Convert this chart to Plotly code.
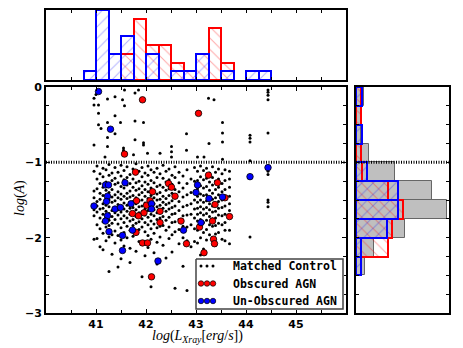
import plotly.graph_objects as go

# ---------------- data ----------------
# Matched control sample: dots arranged in vertical columns (x = log Lx, y = log A)
control_cols = [40.96, 41.02, 41.08, 41.14, 41.20, 41.26, 41.32, 41.38, 41.44, 41.50,
                41.56, 41.62, 41.68, 41.74, 41.80, 41.86, 41.92, 41.98, 42.04, 42.10,
                42.16, 42.22, 42.28, 42.34, 42.40, 42.46, 42.52, 42.58, 42.66, 42.74,
                42.82, 42.90, 42.97, 43.03, 43.09, 43.15, 43.21, 43.27, 43.33, 43.39,
                43.45, 43.52, 43.58, 43.67, 44.08, 44.44]
control_ys = [
    [-1.12, -1.38, -1.47, -1.63, -1.71, -2.02],
    [-1.05, -1.22, -1.35, -1.52, -1.58, -1.66, -1.83, -2.01],
    [-1.15, -1.28, -1.41, -1.49, -1.62, -1.74, -1.88, -2.12],
    [-1.08, -1.19, -1.33, -1.44, -1.55, -1.61, -1.69, -1.79, -1.94, -2.16],
    [-1.10, -1.26, -1.37, -1.48, -1.57, -1.65, -1.73, -1.86, -2.04],
    [-1.03, -1.17, -1.31, -1.40, -1.50, -1.59, -1.68, -1.77, -1.84, -1.99, -2.45],
    [-1.14, -1.24, -1.36, -1.46, -1.53, -1.64, -1.72, -1.81, -1.96, -2.22],
    [-1.07, -1.21, -1.29, -1.43, -1.51, -1.60, -1.67, -1.76, -1.91, -2.07],
    [-1.13, -1.27, -1.39, -1.47, -1.56, -1.63, -1.70, -1.82, -1.97, -2.39],
    [-1.04, -1.18, -1.32, -1.42, -1.49, -1.58, -1.66, -1.75, -1.87, -2.03, -2.28],
    [-1.11, -1.23, -1.34, -1.45, -1.54, -1.62, -1.71, -1.80, -1.93, -2.11],
    [-1.06, -1.20, -1.30, -1.41, -1.48, -1.57, -1.65, -1.74, -1.85, -2.00],
    [-1.16, -1.28, -1.38, -1.46, -1.53, -1.61, -1.69, -1.78, -1.90, -2.14, -2.33],
    [-1.09, -1.22, -1.33, -1.44, -1.52, -1.60, -1.68, -1.76, -1.84, -1.98],
    [-1.02, -1.15, -1.27, -1.37, -1.47, -1.55, -1.63, -1.72, -1.81, -1.95, -2.18],
    [-1.12, -1.25, -1.35, -1.43, -1.51, -1.59, -1.67, -1.79, -1.89, -2.05],
    [-1.07, -1.19, -1.31, -1.40, -1.50, -1.58, -1.66, -1.75, -1.86, -2.09, -2.52],
    [-1.14, -1.26, -1.36, -1.45, -1.54, -1.62, -1.70, -1.80, -1.92, -2.24],
    [-1.05, -1.17, -1.29, -1.39, -1.48, -1.56, -1.64, -1.73, -1.83, -1.97, -2.13],
    [-1.10, -1.24, -1.34, -1.44, -1.52, -1.60, -1.69, -1.78, -1.88, -2.02, -2.65],
    [-1.13, -1.27, -1.38, -1.47, -1.55, -1.63, -1.71, -1.82, -1.94, -2.20],
    [-1.08, -1.20, -1.32, -1.42, -1.50, -1.59, -1.67, -1.76, -1.87, -2.06, -2.35],
    [-1.15, -1.30, -1.40, -1.49, -1.57, -1.66, -1.74, -1.85, -1.99],
    [-1.04, -1.21, -1.33, -1.45, -1.53, -1.61, -1.72, -1.84, -2.10],
    [-1.12, -1.26, -1.37, -1.48, -1.56, -1.65, -1.77, -1.90, -2.27],
    [-1.09, -1.23, -1.35, -1.44, -1.54, -1.62, -1.73, -1.86, -2.01],
    [-1.17, -1.29, -1.41, -1.51, -1.60, -1.69, -1.80, -1.96, -2.19],
    [-1.06, -1.20, -1.36, -1.47, -1.58, -1.68, -1.79, -1.92, -2.67],
    [-1.13, -1.27, -1.39, -1.52, -1.64, -1.76, -1.89, -2.08],
    [-1.18, -1.34, -1.46, -1.59, -1.71, -1.85, -2.00, -2.38],
    [-1.10, -1.28, -1.43, -1.57, -1.70, -1.86, -2.04, -2.70],
    [-1.22, -1.40, -1.55, -1.69, -1.83, -2.12],
    [-1.07, -1.25, -1.38, -1.50, -1.62, -1.74, -1.88, -2.05],
    [-1.12, -1.24, -1.35, -1.45, -1.53, -1.61, -1.69, -1.78, -1.90, -2.07],
    [-1.05, -1.19, -1.31, -1.42, -1.50, -1.59, -1.67, -1.76, -1.87, -2.00, -2.23],
    [-1.11, -1.23, -1.34, -1.44, -1.53, -1.62, -1.70, -1.80, -1.93, -2.15],
    [-1.08, -1.21, -1.32, -1.43, -1.51, -1.60, -1.68, -1.77, -1.89, -2.03],
    [-1.14, -1.26, -1.37, -1.46, -1.55, -1.63, -1.72, -1.83, -1.96, -2.30],
    [-1.06, -1.20, -1.30, -1.41, -1.49, -1.58, -1.66, -1.75, -1.85, -2.00],
    [-1.13, -1.25, -1.36, -1.47, -1.56, -1.65, -1.74, -1.84, -1.95, -2.10],
    [-1.09, -1.22, -1.33, -1.43, -1.52, -1.61, -1.70, -1.81, -1.93],
    [-1.15, -1.28, -1.39, -1.50, -1.60, -1.71, -1.83, -2.02],
    [-1.10, -1.24, -1.36, -1.48, -1.58, -1.69, -1.80, -1.90, -2.04],
    [-1.12, -1.22, -1.33, -1.45, -1.55, -1.64, -1.72, -1.90, -2.08],
    [-0.64, -0.68, -0.73, -0.98, -1.99],
    [-0.04, -0.07, -0.11, -0.17, -0.61, -1.12, -1.16, -1.50, -1.53, -1.59],
]
# sparse control dots above log(A) = -1
control_upper_x = [40.96, 40.96, 41.05, 41.05, 41.05, 40.96, 41.23, 41.38, 41.53, 41.57,
                   41.57, 41.38, 41.23, 41.23, 41.23, 41.49, 41.78, 41.78, 41.85, 41.95,
                   41.78, 41.55, 41.55, 41.38, 41.95, 41.95, 42.03, 42.28, 42.51, 42.51,
                   42.51, 42.81, 42.81, 43.25, 43.36, 43.26, 43.03, 41.18, 41.75, 43.53,
                   43.53, 43.53, 43.53, 43.16, 41.00, 41.10]
control_upper_y = [-0.15, -0.24, -0.24, -0.35, -0.50, -0.77, -0.16, -0.13, -0.17, -0.25,
                   -0.04, -0.38, -0.47, -0.67, -0.79, -0.47, -0.45, -0.08, -0.04, -0.47,
                   -0.70, -0.81, -0.84, -0.62, -0.74, -0.77, -0.88, -0.88, -0.79, -0.86,
                   -0.93, -0.62, -0.84, -0.15, -0.17, -0.75, -0.93, -0.93, -0.90, -0.47,
                   -0.61, -0.73, -0.96, -0.93, -0.10, -0.55]

# Obscured AGN (red)
obscured_x = [41.93, 43.05, 41.57, 41.79, 42.45, 42.51, 42.13, 43.43, 43.58, 43.38,
              43.67, 43.33, 43.35, 43.37, 43.16, 41.81, 41.80, 41.73, 41.85, 41.96,
              42.01, 42.08, 42.28, 42.28, 41.93, 42.03, 42.11, 42.58, 42.70, 42.81,
              43.07, 43.25]
obscured_y = [-0.17, -0.35, -0.89, -1.13, -1.28, -1.33, -1.39, -1.27, -1.47, -1.56,
              -1.72, -1.78, -2.02, -2.08, -2.20, -1.51, -1.93, -1.68, -1.71, -1.67,
              -1.57, -1.51, -1.65, -1.80, -2.07, -2.07, -2.52, -1.45, -1.78, -2.08,
              -1.86, -1.17]

# Un-obscured AGN (blue)
unobscured_x = [41.05, 41.29, 41.19, 41.25, 41.58, 43.03, 43.00, 44.08, 44.44, 43.26,
                43.53, 43.10, 40.96, 41.23, 41.21, 41.23, 41.19, 41.26, 41.38, 41.49,
                41.53, 41.53, 41.70, 41.73, 42.11, 42.11, 42.24, 42.75]
unobscured_y = [-0.06, -0.56, -1.30, -1.30, -1.27, -1.30, -1.40, -1.19, -1.07, -1.48,
                -1.46, -1.80, -1.58, -1.45, -1.52, -1.71, -1.78, -1.92, -1.62, -1.60,
                -1.97, -2.17, -1.55, -1.90, -1.55, -1.62, -2.31, -1.90]

# Top histogram: counts per 0.25-dex bin of log(Lx) (bin left edges)
lx_bin_left = [40.75, 41.0, 41.25, 41.5, 41.75, 42.0, 42.25, 42.5, 42.75, 43.0,
               43.25, 43.5, 43.75, 44.0, 44.25]
lx_obscured_counts = [0, 0, 0, 3, 7, 4, 4, 2, 1, 3, 6, 2, 0, 0, 0]
lx_unobscured_counts = [1, 8, 3, 5, 0, 3, 0, 1, 1, 3, 0, 1, 0, 1, 1]

# Right histogram: normalised frequency per 0.25 bin of log(A) (bin lower edges)
la_bin_low = [-0.25, -0.5, -0.75, -1.0, -1.25, -1.5, -1.75, -2.0, -2.25, -2.5]
la_control_freq = [0.19, 0.12, 0.12, 0.31, 0.93, 1.81, 2.17, 1.17, 0.43, 0.21]
la_obscured_freq = [0.12, 0.12, 0, 0.12, 0.14, 0.76, 1.12, 0.86, 0.76, 0]
la_unobscured_freq = [0.14, 0, 0.14, 0, 0.26, 1.0, 1.0, 0.74, 0.12, 0.12]

x_tick_vals = [41, 42, 43, 44, 45]
y_tick_vals = [0, -1, -2, -3]
legend_labels = ["Matched Control", "Obscured AGN", "Un-Obscured AGN"]
threshold_logA = -1

# ---------------- layout helpers ----------------
W, H = 463, 348


def dx(a, b):
    return [a / W, b / W]


def dy(top, bottom):
    return [1 - bottom / H, 1 - top / H]


def nz(vals):
    return [v if v else None for v in vals]


RED, BLUE = "#ff0000", "#0000ff"
tickfont = dict(family="DejaVu Sans", size=11, color="black", weight="bold")

cx = [x for x, ys in zip(control_cols, control_ys) for _ in ys] + control_upper_x
cy = [y for ys in control_ys for y in ys] + control_upper_y

fig = go.Figure()

# main scatter
fig.add_trace(go.Scatter(x=cx, y=cy, mode="markers", xaxis="x", yaxis="y",
                         marker=dict(color="black", size=3), showlegend=False))
fig.add_trace(go.Scatter(x=obscured_x, y=obscured_y, mode="markers", xaxis="x", yaxis="y",
                         marker=dict(color=RED, size=6.5, line=dict(color="black", width=0.8)),
                         showlegend=False))
fig.add_trace(go.Scatter(x=unobscured_x, y=unobscured_y, mode="markers", xaxis="x", yaxis="y",
                         marker=dict(color=BLUE, size=6.5, line=dict(color="black", width=0.8)),
                         showlegend=False))

# top histogram
fig.add_trace(go.Bar(x=lx_bin_left, y=nz(lx_obscured_counts), offset=0, width=0.25,
                     xaxis="x2", yaxis="y2", showlegend=False,
                     marker=dict(color="rgba(0,0,0,0)", line=dict(color=RED, width=2),
                                 pattern=dict(shape="\\", fgcolor="rgba(255,0,0,0.35)",
                                              size=8, solidity=0.12))))
fig.add_trace(go.Bar(x=lx_bin_left, y=nz(lx_unobscured_counts), offset=0, width=0.25,
                     xaxis="x2", yaxis="y2", showlegend=False,
                     marker=dict(color="rgba(0,0,0,0)", line=dict(color=BLUE, width=2),
                                 pattern=dict(shape="/", fgcolor="rgba(0,0,255,0.3)",
                                              size=8, solidity=0.12))))

# right histogram
fig.add_trace(go.Bar(y=la_bin_low, x=nz(la_control_freq), orientation="h", offset=0, width=0.25,
                     xaxis="x3", yaxis="y3", showlegend=False,
                     marker=dict(color="#bfbfbf", line=dict(color="#666666", width=1))))
fig.add_trace(go.Bar(y=la_bin_low, x=nz(la_obscured_freq), orientation="h", offset=0, width=0.25,
                     xaxis="x3", yaxis="y3", showlegend=False,
                     marker=dict(color="rgba(0,0,0,0)", line=dict(color=RED, width=2),
                                 pattern=dict(shape="\\", fgcolor="rgba(255,0,0,0.35)",
                                              size=8, solidity=0.12))))
fig.add_trace(go.Bar(y=la_bin_low, x=nz(la_unobscured_freq), orientation="h", offset=0, width=0.25,
                     xaxis="x3", yaxis="y3", showlegend=False,
                     marker=dict(color="rgba(0,0,0,0)", line=dict(color=BLUE, width=2),
                                 pattern=dict(shape="/", fgcolor="rgba(0,0,255,0.3)",
                                              size=8, solidity=0.12))))

# custom legend (box + three-point symbols), drawn on its own overlay axes in pixel units
LEG_W, LEG_H = 147, 50
fig.add_trace(go.Scatter(x=[0, LEG_W, LEG_W, 0, 0], y=[0, 0, LEG_H, LEG_H, 0], mode="lines",
                         fill="toself", fillcolor="white", line=dict(color="#444444", width=1.5),
                         xaxis="x4", yaxis="y4", showlegend=False, hoverinfo="skip"))
leg_sym_x = [5, 11, 17]
leg_rows = [7, 24.5, 42]
leg_styles = [dict(color="black", size=3),
              dict(color=RED, size=5.5, line=dict(color="black", width=0.7)),
              dict(color=BLUE, size=5.5, line=dict(color="black", width=0.7))]
for ry, st in zip(leg_rows, leg_styles):
    fig.add_trace(go.Scatter(x=leg_sym_x, y=[ry] * 3, mode="markers", marker=st,
                             xaxis="x4", yaxis="y4", showlegend=False, hoverinfo="skip"))

annotations = []
for ry, lab in zip(leg_rows, legend_labels):
    annotations.append(dict(x=35, y=ry, xref="x4", yref="y4", text="<b>%s</b>" % lab,
                            showarrow=False, xanchor="left", yanchor="middle",
                            font=dict(family="DejaVu Sans Mono", size=11.5, color="black")))
annotations.append(dict(x=197 / W, y=1 - 336 / H, xref="paper", yref="paper",
                        text="<i>log</i>(<i>L</i><sub><i>Xray</i></sub>[<i>erg</i>/<i>s</i>])",
                        showarrow=False, xanchor="center", yanchor="middle",
                        font=dict(family="Liberation Serif", size=14, color="black")))
annotations.append(dict(x=20 / W, y=1 - 198 / H, xref="paper", yref="paper",
                        text="<i>log</i>(<i>A</i>)", textangle=-90,
                        showarrow=False, xanchor="center", yanchor="middle",
                        font=dict(family="Liberation Serif", size=14, color="black")))

frame = dict(showline=True, linecolor="black", linewidth=2, mirror="ticks",
             showgrid=False, zeroline=False, automargin=False)

shapes = [
    dict(type="line", xref="x domain", yref="y", x0=0, x1=1, y0=threshold_logA, y1=threshold_logA,
         line=dict(color="black", width=3, dash="1px,1.5px"), layer="above"),
    dict(type="line", xref="x3 domain", yref="y3", x0=0, x1=1, y0=threshold_logA, y1=threshold_logA,
         line=dict(color="black", width=3, dash="1px,1.5px"), layer="above"),
]

fig.update_layout(
    width=W, height=H, template="none",
    margin=dict(l=0, r=0, t=0, b=0),
    paper_bgcolor="white", plot_bgcolor="white",
    barmode="overlay", bargap=0,
    showlegend=False,
    xaxis=dict(domain=dx(46, 346), range=[40, 46], anchor="y",
               tickmode="array", tickvals=x_tick_vals, ticktext=[str(v) for v in x_tick_vals],
               ticks="inside", ticklen=4, tickwidth=1, tickcolor="black", tickfont=tickfont,
               minor=dict(ticks="inside", dtick=0.5, tick0=40, ticklen=3, tickcolor="black"),
               **frame),
    yaxis=dict(domain=dy(87, 313), range=[-3, 0], anchor="x",
               tickmode="array", tickvals=y_tick_vals,
               ticktext=["0" if v == 0 else "\u2212%d" % abs(v) for v in y_tick_vals],
               ticks="inside", ticklen=4, tickwidth=1, tickcolor="black", tickfont=tickfont,
               minor=dict(ticks="inside", dtick=0.25, tick0=0, ticklen=3, tickcolor="black"),
               **frame),
    xaxis2=dict(domain=dx(46, 346), range=[40, 46], anchor="y2", showticklabels=False,
                ticks="inside", dtick=0.5, tick0=40, ticklen=3, tickcolor="black", **frame),
    yaxis2=dict(domain=dy(10, 80), range=[0, 8], anchor="x2", showticklabels=False,
                ticks="", **frame),
    xaxis3=dict(domain=dx(356, 449), range=[0, 2.21], anchor="y3", showticklabels=False,
                ticks="", **frame),
    yaxis3=dict(domain=dy(87, 313), range=[-3, 0], anchor="x3", showticklabels=False,
                ticks="inside", dtick=0.25, tick0=0, ticklen=3, tickcolor="black", **frame),
    xaxis4=dict(domain=dx(195, 344), range=[-1, LEG_W + 1], anchor="y4", visible=False),
    yaxis4=dict(domain=dy(258, 310), range=[LEG_H + 1, -1], anchor="x4", visible=False),
    annotations=annotations,
    shapes=shapes,
)

fig.write_html("out.html", config={"displayModeBar": False},
               post_script="document.body.style.margin='0';document.body.style.overflow='hidden';")
